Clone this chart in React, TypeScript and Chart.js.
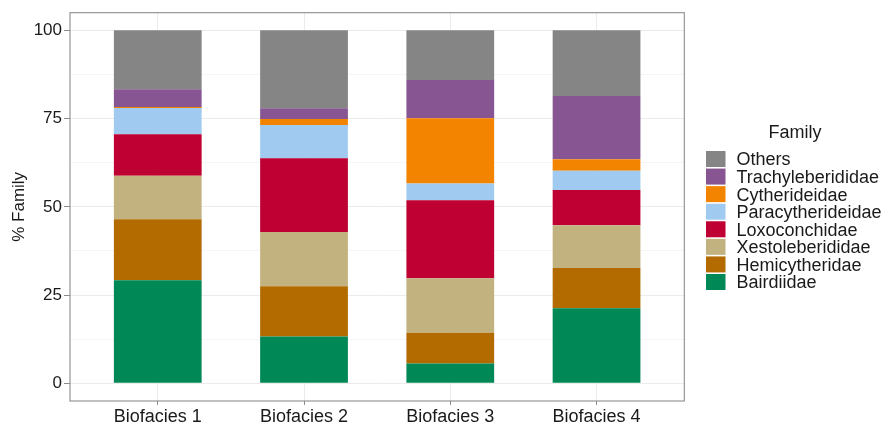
import React, { useEffect, useRef } from "react";
import { Chart, registerables } from "chart.js";

Chart.register(...registerables);

const categories = ["Biofacies 1", "Biofacies 2", "Biofacies 3", "Biofacies 4"];
const bairdiidae = [29.2, 13.3, 5.6, 21.3];
const hemicytheridae = [17.3, 14.2, 8.7, 11.4];
const xestoleberididae = [12.3, 15.4, 15.5, 12.1];
const loxoconchidae = [11.8, 20.9, 22.1, 10.0];
const paracytherideidae = [7.4, 9.4, 4.7, 5.4];
const cytherideidae = [0.3, 1.7, 18.5, 3.3];
const trachyleberididae = [5.0, 3.0, 10.8, 17.9];
const others = [16.7, 22.1, 14.1, 18.6];

const yMajorTicks = [0, 25, 50, 75, 100];
const yMinorTicks = [12.5, 37.5, 62.5, 87.5];

const seriesDefs = [
  { label: "Bairdiidae", values: bairdiidae, color: "#008856" },
  { label: "Hemicytheridae", values: hemicytheridae, color: "#B36B00" },
  { label: "Xestoleberididae", values: xestoleberididae, color: "#C2B280" },
  { label: "Loxoconchidae", values: loxoconchidae, color: "#BE0032" },
  { label: "Paracytherideidae", values: paracytherideidae, color: "#A1CAF1" },
  { label: "Cytherideidae", values: cytherideidae, color: "#F38400" },
  { label: "Trachyleberididae", values: trachyleberididae, color: "#875692" },
  { label: "Others", values: others, color: "#858585" },
];

const FONT = "'Liberation Sans', Arial, sans-serif";
const TEXT = "#1a1a1a";
const FRAME = "#8c8c8c";

const panelPlugin = {
  id: "panelBorder",
  afterDatasetsDraw(chart: any) {
    const { ctx, chartArea: a } = chart;
    ctx.save();
    ctx.strokeStyle = FRAME;
    ctx.lineWidth = 1.1;
    ctx.strokeRect(a.left, a.top, a.right - a.left, a.bottom - a.top);
    ctx.restore();
  },
};

const familyLegend = {
  id: "familyLegend",
  afterDraw(chart: any) {
    const { ctx } = chart;
    const items = [...chart.data.datasets].reverse();
    const keyX = 706;
    const keyW = 19.5;
    const keyH = 16;
    const top0 = 151;
    const pitch = 17.57;
    const fs = 18;
    ctx.save();
    ctx.fillStyle = TEXT;
    ctx.font = `${fs}px ${FONT}`;
    ctx.textAlign = "center";
    ctx.textBaseline = "alphabetic";
    ctx.fillText("Family", 795, 138);
    ctx.textAlign = "left";
    items.forEach((ds: any, i: number) => {
      const t = top0 + i * pitch;
      ctx.fillStyle = ds.backgroundColor;
      ctx.fillRect(keyX, t, keyW, keyH);
      ctx.fillStyle = TEXT;
      ctx.fillText(ds.label, 736.5, t + keyH / 2 + 0.358 * fs);
    });
    ctx.restore();
  },
};

export default function App() {
  const ref = useRef<HTMLCanvasElement>(null);

  useEffect(() => {
    document.body.style.margin = "0";
    if (!ref.current) return;
    const chart = new Chart(ref.current, {
      type: "bar",
      data: {
        datasets: seriesDefs.map((s) => ({
          label: s.label,
          data: s.values.map((v, i) => ({ x: i + 1, y: v })),
          backgroundColor: s.color,
          borderWidth: 0,
          categoryPercentage: 1,
          barPercentage: 0.6,
        })),
      },
      options: {
        responsive: false,
        animation: false,
        layout: { padding: { top: 12.7, right: 200.7, left: 0, bottom: 0 } },
        plugins: { legend: { display: false }, tooltip: { enabled: false } },
        scales: {
          x: {
            type: "linear",
            min: 0.4,
            max: 4.6,
            stacked: true,
            offset: false,
            afterBuildTicks: (s: any) => {
              s.ticks = categories.map((_, i) => ({ value: i + 1 }));
            },
            afterFit: (s: any) => {
              s.height = 21;
            },
            ticks: {
              autoSkip: false,
              maxRotation: 0,
              padding: 1,
              color: TEXT,
              font: { family: FONT, size: 18 },
              callback: (v: any) => categories[Math.round(Number(v)) - 1] ?? "",
            },
            grid: { offset: false, color: "#ebebeb", tickColor: FRAME, tickLength: 4, lineWidth: 1 },
            border: { display: false },
          },
          y: {
            type: "linear",
            stacked: true,
            min: -5,
            max: 105,
            afterBuildTicks: (s: any) => {
              s.ticks = [...yMajorTicks, ...yMinorTicks]
                .sort((a, b) => a - b)
                .map((v) => ({ value: v }));
            },
            afterFit: (s: any) => {
              s.width = 70;
            },
            ticks: {
              autoSkip: false,
              padding: 2,
              color: TEXT,
              font: { family: FONT, size: 17 },
              callback: (v: any) => (yMajorTicks.includes(Number(v)) ? String(v) : ""),
            },
            grid: {
              color: (c: any) =>
                c.tick && yMajorTicks.includes(c.tick.value) ? "#ebebeb" : "#f5f5f5",
              tickColor: (c: any) =>
                c.tick && yMajorTicks.includes(c.tick.value) ? FRAME : "rgba(0,0,0,0)",
              tickLength: 6,
              lineWidth: 1,
            },
            border: { display: false },
            title: {
              display: true,
              text: "% Family",
              color: TEXT,
              font: { family: FONT, size: 17 },
              padding: { top: 9.5, bottom: 0 },
            },
          },
        },
      },
      plugins: [panelPlugin, familyLegend],
    } as any);
    return () => chart.destroy();
  }, []);

  return <canvas ref={ref} width={885} height={422} style={{ display: "block" }} />;
}
